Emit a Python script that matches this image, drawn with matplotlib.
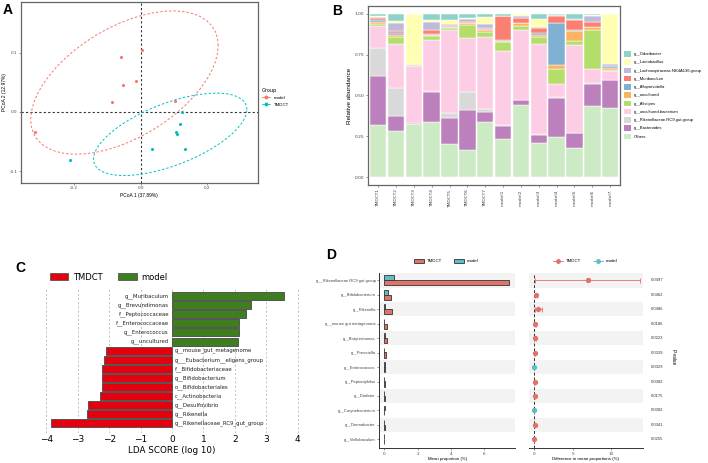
import numpy as np
import matplotlib
matplotlib.use("Agg")
import matplotlib.pyplot as plt
from matplotlib.patches import Patch
from matplotlib.lines import Line2D

# ---------------- DATA ----------------
# Panel A: PCoA
model_pc1 = [0.005, -0.058, -0.014, -0.053, -0.085, 0.105, -0.318]
model_pc2 = [0.105, 0.092, 0.053, 0.046, 0.017, 0.019, -0.034]
tmdct_pc1 = [0.126, 0.119, 0.106, 0.111, 0.034, 0.133, -0.213]
tmdct_pc2 = [0.0005, -0.020, -0.034, -0.037, -0.062, -0.062, -0.081]
pc1_label = "PCoA 1 (37.89%)"
pc2_label = "PCoA 2 (12.97%)"

# Panel B: relative abundance (stack order bottom -> top)
samples = ["TMDCT1", "TMDCT2", "TMDCT3", "TMDCT4", "TMDCT5", "TMDCT6", "TMDCT7",
           "model1", "model2", "model3", "model4", "model5", "model6", "model7"]
taxa = ["Others", "g__Bacteroides", "g__Rikenellaceae.RC9.gut.group", "g__uncultured.bacterium",
        "g__Alistipes", "g__uncultured", "g__Alloprevotella", "g__Muribaculum",
        "g__Lachnospiraceae.NK4A136.group", "g__Lactobacillus", "g__Odoribacter"]
others          = [0.322, 0.285, 0.324, 0.338, 0.202, 0.164, 0.336, 0.233, 0.441, 0.211, 0.245, 0.178, 0.435, 0.425]
bacteroides     = [0.299, 0.087, 0.006, 0.182, 0.158, 0.249, 0.063, 0.083, 0.031, 0.048, 0.241, 0.091, 0.136, 0.168]
rikenellaceae   = [0.172, 0.171, 0.000, 0.008, 0.035, 0.109, 0.020, 0.004, 0.002, 0.008, 0.004, 0.004, 0.004, 0.002]
unc_bacterium   = [0.131, 0.273, 0.352, 0.310, 0.506, 0.328, 0.437, 0.453, 0.429, 0.547, 0.081, 0.535, 0.089, 0.057]
alistipes       = [0.016, 0.044, 0.006, 0.024, 0.010, 0.081, 0.031, 0.057, 0.022, 0.046, 0.093, 0.026, 0.235, 0.002]
uncultured      = [0.010, 0.010, 0.006, 0.008, 0.008, 0.010, 0.012, 0.006, 0.020, 0.010, 0.022, 0.063, 0.020, 0.014]
alloprevotella  = [0.012, 0.011, 0.000, 0.009, 0.004, 0.002, 0.006, 0.006, 0.002, 0.011, 0.261, 0.004, 0.002, 0.012]
muribaculum     = [0.012, 0.014, 0.000, 0.022, 0.008, 0.006, 0.006, 0.144, 0.029, 0.030, 0.039, 0.059, 0.032, 0.002]
lachnospiraceae = [0.008, 0.052, 0.000, 0.050, 0.008, 0.021, 0.028, 0.000, 0.012, 0.010, 0.004, 0.006, 0.035, 0.012]
lactobacillus   = [0.006, 0.010, 0.306, 0.013, 0.021, 0.006, 0.039, 0.000, 0.010, 0.047, 0.000, 0.004, 0.004, 0.304]
odoribacter     = [0.012, 0.043, 0.000, 0.036, 0.040, 0.024, 0.022, 0.014, 0.002, 0.032, 0.010, 0.030, 0.008, 0.002]
abund = [others, bacteroides, rikenellaceae, unc_bacterium, alistipes, uncultured,
         alloprevotella, muribaculum, lachnospiraceae, lactobacillus, odoribacter]
taxa_colors = ["#CCEBC5", "#BC80BD", "#D9D9D9", "#FCCDE5", "#B3DE69", "#FDB462",
               "#80B1D3", "#FB8072", "#BEBADA", "#FFFFB3", "#8DD3C7"]

# Panel C: LEfSe (bottom -> top)
lda_names = ["g__Rikenellaceae_RC9_gut_group", "g__Rikenella", "g__Desulfovibrio",
             "c__Actinobacteria", "o__Bifidobacteriales", "g__Bifidobacterium",
             "f__Bifidobacteriaceae", "g___Eubacterium__eligens_group", "g__mouse_gut_metagenome",
             "g__uncultured", "g__Enterococcus", "f__Enterococcaceae", "f__Peptococcaceae",
             "g__Brevundimonas", "g__Muribaculum"]
lda_scores = [-3.84, -2.69, -2.66, -2.28, -2.23, -2.23, -2.23, -2.18, -2.10,
              2.09, 2.14, 2.14, 2.36, 2.53, 3.58]

# Panel D: STAMP-like (top -> bottom)
d_names = ["g__Rikenellaceae RC9 gut group", "g__Bifidobacterium", "g__Rikenella",
           "g__mouse gut metagenome", "g__Butyricimonas", "g__Prevotella", "g__Enterococcus",
           "g__Peptoniphilus", "g__Dialister", "g__Corynebacterium", "g__Dermabacter",
           "g__Veillobaculum"]
d_tmdct = [7.50, 0.38, 0.48, 0.14, 0.14, 0.08, 0.02, 0.03, 0.04, 0.005, 0.02, 0.008]
d_model = [0.56, 0.20, 0.02, 0.01, 0.02, 0.01, 0.06, 0.01, 0.01, 0.02, 0.005, 0.003]
d_diff = [6.90, 0.18, 0.46, 0.13, 0.12, 0.05, -0.05, 0.02, 0.03, -0.02, 0.015, 0.005]
d_lo = [0.05, 0.02, 0.02, 0.02, 0.01, 0.01, -0.09, 0.005, 0.005, -0.03, 0.005, 0.001]
d_hi = [13.75, 0.38, 0.93, 0.25, 0.24, 0.10, -0.01, 0.04, 0.06, -0.01, 0.03, 0.01]
d_p = ["0.0497", "0.0462", "0.0486", "0.0186", "0.0223", "0.0339", "0.0029",
       "0.0082", "0.0175", "0.0082", "0.0341", "0.0255"]

C_RED = "#F8766D"
C_CYAN = "#00BFC4"

# ---------------- FIGURE ----------------
W, H = 708, 463
fig = plt.figure(figsize=(W / 100, H / 100), dpi=100)
GG = ["Liberation Sans", "DejaVu Sans"]


def ax_px(l, t, r, b):
    return fig.add_axes([l / W, 1 - b / H, (r - l) / W, (b - t) / H])


def fx(x):
    return x / W


def fy(y):
    return 1 - y / H


# ---------- Panel A ----------
def cov_trob(X, nu=5, maxit=25, tol=0.01):
    n, p = X.shape
    loc = X.mean(0)
    w = np.ones(n)
    Xc = X - loc
    for _ in range(maxit):
        w0 = w
        Xc = X - loc
        sw = np.sqrt(w / w.sum())
        _, d, Vt = np.linalg.svd(sw[:, None] * Xc, full_matrices=False)
        wX = Xc @ Vt.T @ np.diag(1 / d)
        Q = (wX ** 2).sum(1)
        w = (nu + p) / (nu + Q)
        loc = (w[:, None] * X).sum(0) / w.sum()
        if np.all(np.abs(w - w0) < tol):
            break
    S = np.sqrt(w)[:, None] * Xc
    cov = S.T @ S / n
    return loc, cov


def ellipse_pts(x, y, level=0.95, seg=51):
    X = np.column_stack([x, y])
    n = len(x)
    center, shape = cov_trob(X)
    dfd = n - 1
    fq = (dfd / 2.0) * ((1 - level) ** (-2.0 / dfd) - 1)
    radius = np.sqrt(2 * fq)
    ang = np.linspace(0, 2 * np.pi, seg)
    circ = np.column_stack([np.cos(ang), np.sin(ang)])
    L = np.linalg.cholesky(shape)
    pts = center + radius * circ @ L.T
    return pts[:, 0], pts[:, 1]


axA = ax_px(20.7, 1.7, 257.7, 183)
axA.set_xlim(-0.36, 0.352)
axA.set_ylim(-0.120, 0.186)
axA.axvline(0, color="#333333", ls=(0, (2, 2)), lw=0.8, zorder=1)
axA.axhline(0, color="#333333", ls=(0, (2, 2)), lw=0.8, zorder=1)
for xs, ys, c in [(model_pc1, model_pc2, C_RED), (tmdct_pc1, tmdct_pc2, C_CYAN)]:
    ex, ey = ellipse_pts(np.array(xs), np.array(ys))
    axA.plot(ex, ey, color=c, ls=(0, (2.5, 2)), lw=0.7, zorder=2)
    axA.scatter(xs, ys, s=5, color=c, zorder=3, linewidths=0)
axA.set_xticks([-0.2, 0.0, 0.2])
axA.set_yticks([-0.1, 0.0, 0.1])
axA.set_xticklabels(["-0.2", "0.0", "0.2"])
axA.set_yticklabels(["-0.1", "0.0", "0.1"])
axA.tick_params(labelsize=3, length=1.5, width=0.4, pad=1, colors="#444444")
for s in axA.spines.values():
    s.set_color("#666666")
    s.set_linewidth(0.9)
axA.set_xlabel(pc1_label, fontsize=3.5, labelpad=1.5, family=GG)
axA.set_ylabel(pc2_label, fontsize=3.5, labelpad=1.5, family=GG)
legA = fig.legend(handles=[Line2D([], [], color=C_RED, marker="o", ms=1.8, lw=0.6),
                           Line2D([], [], color=C_CYAN, marker="o", ms=1.8, lw=0.6)],
                  labels=["model", "TMDCT"], title="Group", loc="upper left",
                  bbox_to_anchor=(fx(258), fy(84)), frameon=False, fontsize=3.2,
                  title_fontsize=3.6, handlelength=1.8, labelspacing=0.6,
                  prop={"family": GG, "size": 3.2})
legA._legend_box.align = "left"

# ---------- Panel B ----------
axB = ax_px(368.3, 5.7, 620, 185.3)
xpos = np.arange(1, len(samples) + 1)
bottom = np.zeros(len(samples))
for vals, col in zip(abund, taxa_colors):
    v = np.array(vals)
    axB.bar(xpos, v, bottom=bottom, width=0.92, color=col, edgecolor="white", linewidth=0.35)
    bottom += v
axB.set_xlim(0.45, len(samples) + 0.55)
axB.set_ylim(-0.05, 1.05)
axB.set_yticks([0, 0.25, 0.5, 0.75, 1.0])
axB.set_yticklabels(["0.00", "0.25", "0.50", "0.75", "1.00"])
axB.set_xticks(xpos)
axB.set_xticklabels(samples, rotation=90)
axB.tick_params(labelsize=3.2, length=1.5, width=0.4, pad=1.5, colors="#444444")
for s in axB.spines.values():
    s.set_color("#666666")
    s.set_linewidth(0.9)
axB.set_ylabel("Relative abundance", fontsize=4.6, labelpad=2, family=GG)
legB_handles = [Patch(facecolor=c, edgecolor="none") for c in taxa_colors[::-1]]
fig.legend(handles=legB_handles, labels=taxa[::-1], loc="upper left",
           bbox_to_anchor=(fx(624), fy(51)), frameon=False,
           handlelength=1.7, handleheight=1.7, labelspacing=0.63, handletextpad=0.6,
           borderaxespad=0, borderpad=0,
           prop={"family": GG, "size": 3.0})

# ---------- Panel C ----------
C_R = "#E3000F"
C_G = "#3E7E1E"
axC = ax_px(36.9, 287, 307.1, 433)
yC = np.arange(len(lda_names))
colsC = [C_R if v < 0 else C_G for v in lda_scores]
axC.barh(yC, lda_scores, height=0.88, color=colsC, edgecolor="#555555", linewidth=0.7, zorder=2)
for yy, name, v in zip(yC, lda_names, lda_scores):
    if v < 0:
        axC.text(0.1, yy, name, ha="left", va="center", fontsize=3.9, color="#222222")
    else:
        axC.text(-0.1, yy, name, ha="right", va="center", fontsize=3.9, color="#222222")
axC.set_xlim(-4.3, 4.3)
axC.set_ylim(-1.07, 15.0)
axC.set_xticks(range(-4, 5))
axC.set_xticklabels(["\u22124", "\u22123", "\u22122", "\u22121", "0", "1", "2", "3", "4"])
axC.set_yticks([])
for xg in range(-4, 5):
    axC.axvline(xg, color="#AAAAAA", ls=(0, (3, 3)), lw=0.5, zorder=0)
for s in axC.spines.values():
    s.set_visible(False)
axC.tick_params(axis="x", labelsize=6.5, length=0, pad=1.5)
axC.set_xlabel("LDA SCORE (log 10)", fontsize=6.3, labelpad=1.5)
fig.legend(handles=[Patch(facecolor=C_R, edgecolor="#555555", lw=0.6),
                    Patch(facecolor=C_G, edgecolor="#555555", lw=0.6)],
           labels=["TMDCT", "model"], ncol=2, loc="center left",
           bbox_to_anchor=(fx(42), fy(277)), frameon=False, fontsize=6,
           handlelength=2.2, handleheight=0.8, columnspacing=1.9, handletextpad=0.6)

# ---------- Panel D ----------
nD = len(d_names)
yD = np.arange(nD)[::-1]  # top row = highest y
ylimD = (-0.62, nD - 1 + 0.526)
C_T = "#E0736A"
C_M = "#5EBDC6"

axD1 = ax_px(379.3, 272.7, 515, 448.3)
axD2 = ax_px(529, 272.7, 642.7, 448.3)
for ax in (axD1, axD2):
    for i, yy in enumerate(yD):
        if i % 2 == 0:
            ax.axhspan(yy - 0.5, yy + 0.5, color="#F3F3F3", lw=0, zorder=0)
    ax.set_ylim(*ylimD)
    ax.tick_params(labelsize=3, length=1.5, width=0.4, pad=1, colors="#444444")

axD1.barh(yD + 0.17, d_model, height=0.33, color=C_M, edgecolor="#333333", linewidth=0.6, zorder=2)
axD1.barh(yD - 0.17, d_tmdct, height=0.36, color=C_T, edgecolor="#333333", linewidth=0.6, zorder=2)
axD1.set_xlim(-0.3, 7.84)
axD1.set_xticks([0, 2, 4, 6])
axD1.set_yticks(yD)
axD1.set_yticklabels(d_names, family=GG)
axD1.spines["top"].set_visible(False)
axD1.spines["right"].set_visible(False)
for s in ("left", "bottom"):
    axD1.spines[s].set_color("#333333")
    axD1.spines[s].set_linewidth(0.7)
axD1.set_xlabel("Mean proportion (%)", fontsize=3.2, labelpad=1, family=GG)

axD2.axvline(0, color="#333333", ls=(0, (3, 2)), lw=0.7, zorder=1)
for yy, dv, lo, hi in zip(yD, d_diff, d_lo, d_hi):
    c = C_T if dv >= 0 else C_M
    axD2.errorbar([dv], [yy], xerr=[[dv - lo], [hi - dv]], fmt="o", color=c, ms=2.8,
                  elinewidth=0.6, capsize=1.8, capthick=0.6, zorder=3)
axD2.set_xlim(-0.7, 14.06)
axD2.set_xticks([0, 5, 10])
axD2.set_yticks([])
for s in ("top", "right", "left"):
    axD2.spines[s].set_visible(False)
axD2.spines["bottom"].set_color("#333333")
axD2.spines["bottom"].set_linewidth(0.7)
axD2.set_xlabel("Difference in mean proportions (%)", fontsize=3.2, labelpad=1, family=GG)
for yy, p in zip(yD, d_p):
    axD2.text(1.0 + (651 - 642.7) / (642.7 - 529), yy, p, transform=axD2.get_yaxis_transform(),
              ha="left", va="center", fontsize=3, color="#333333", family=GG)
fig.text(fx(673), fy(357), "P-value", rotation=270, ha="center", va="center",
         fontsize=3.4, family=GG)

fig.legend(handles=[Patch(facecolor=C_T, edgecolor="#333333", lw=0.6),
                    Patch(facecolor=C_M, edgecolor="#333333", lw=0.6)],
           labels=["TMDCT", "model"], ncol=2, loc="center",
           bbox_to_anchor=(fx(446), fy(261)), frameon=False,
           handlelength=2.3, handleheight=0.9, columnspacing=2.6, handletextpad=0.6,
           prop={"family": GG, "size": 3.2})
fig.legend(handles=[Line2D([], [], color=C_T, marker="o", ms=2.5, lw=0.6),
                    Line2D([], [], color=C_M, marker="o", ms=2.5, lw=0.6)],
           labels=["TMDCT", "model"], ncol=2, loc="center",
           bbox_to_anchor=(fx(585), fy(261)), frameon=False,
           handlelength=2.3, columnspacing=2.6, handletextpad=0.6,
           prop={"family": GG, "size": 3.2})

# Panel letters
for letter, x, y in [("A", 8, 10), ("B", 337, 11), ("C", 20, 268), ("D", 331, 255)]:
    fig.text(fx(x), fy(y), letter, fontsize=10, fontweight="bold", ha="center", va="center",
             family=GG)

fig.savefig("out.png", dpi=100)
